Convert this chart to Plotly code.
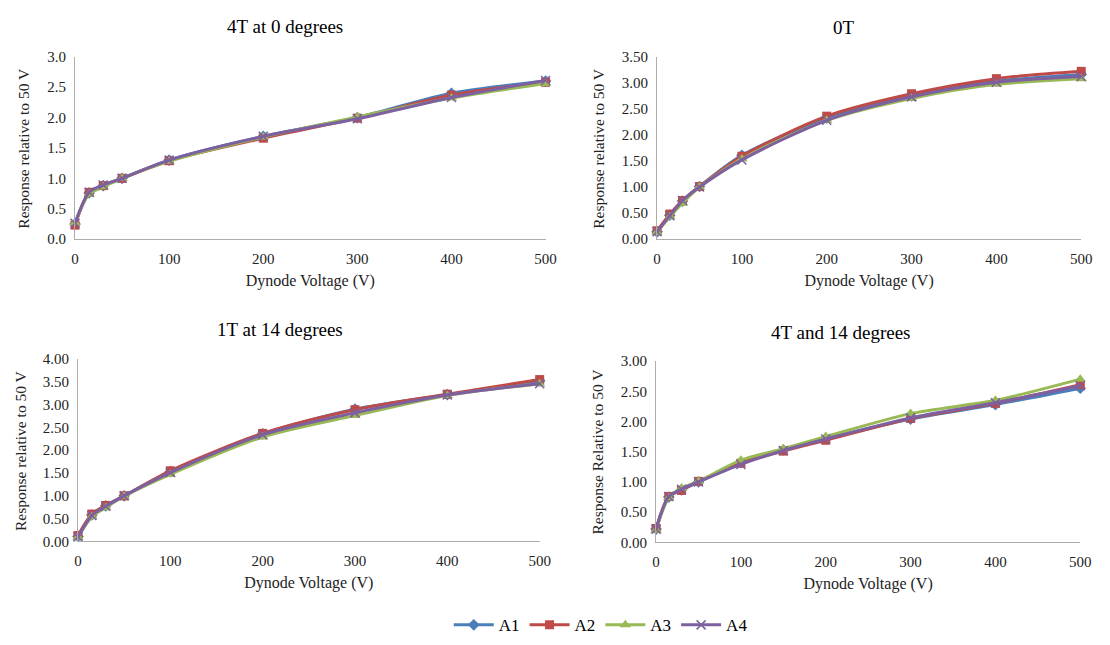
import plotly.graph_objects as go

# ---------------- data ----------------
series_names = ["A1", "A2", "A3", "A4"]
colors = ["#4A7EBB", "#BE4B48", "#98B954", "#7D60A0"]
symbols = ["diamond", "square", "triangle-up", "x-thin"]

x_std = [0, 15, 30, 50, 100, 200, 300, 400, 500]
x_p4 = [0, 15, 30, 50, 100, 150, 200, 300, 400, 500]

# Panel 1: 4T at 0 degrees
p1 = {
    "A1": [0.25, 0.76, 0.88, 1.00, 1.30, 1.69, 2.00, 2.40, 2.60],
    "A2": [0.23, 0.77, 0.88, 1.00, 1.29, 1.66, 1.99, 2.37, 2.58],
    "A3": [0.27, 0.74, 0.86, 1.00, 1.28, 1.68, 2.01, 2.32, 2.56],
    "A4": [0.26, 0.77, 0.89, 1.00, 1.30, 1.69, 1.98, 2.33, 2.61],
}
# Panel 2: 0T
p2 = {
    "A1": [0.14, 0.46, 0.73, 1.01, 1.61, 2.32, 2.75, 3.03, 3.16],
    "A2": [0.16, 0.48, 0.74, 1.01, 1.59, 2.36, 2.79, 3.08, 3.22],
    "A3": [0.13, 0.43, 0.69, 1.00, 1.54, 2.28, 2.70, 2.97, 3.08],
    "A4": [0.14, 0.45, 0.74, 1.00, 1.52, 2.28, 2.73, 3.01, 3.12],
}
# Panel 3: 1T at 14 degrees
p3 = {
    "A1": [0.11, 0.58, 0.78, 1.00, 1.53, 2.36, 2.90, 3.22, 3.52],
    "A2": [0.13, 0.60, 0.79, 1.00, 1.55, 2.37, 2.89, 3.23, 3.55],
    "A3": [0.09, 0.54, 0.74, 0.99, 1.47, 2.29, 2.76, 3.20, 3.46],
    "A4": [0.10, 0.57, 0.77, 1.00, 1.51, 2.34, 2.82, 3.21, 3.46],
}
# Panel 4: 4T and 14 degrees
p4 = {
    "A1": [0.22, 0.75, 0.87, 1.00, 1.32, 1.53, 1.71, 2.04, 2.28, 2.55],
    "A2": [0.23, 0.76, 0.86, 1.01, 1.31, 1.51, 1.69, 2.05, 2.30, 2.61],
    "A3": [0.20, 0.74, 0.90, 1.01, 1.36, 1.55, 1.75, 2.13, 2.35, 2.70],
    "A4": [0.22, 0.76, 0.88, 1.00, 1.29, 1.52, 1.71, 2.06, 2.31, 2.59],
}

panel_titles = ["4T at 0 degrees", "0T", "1T at 14 degrees", "4T and 14 degrees"]
y_titles = ["Response relative to 50 V", "Response relative to 50 V",
            "Response relative to 50 V", "Response Relative to 50 V"]
x_title = "Dynode Voltage (V)"
y_ranges = [[0, 3.0], [0, 3.5], [0, 4.0], [0, 3.0]]
y_formats = [".1f", ".2f", ".2f", ".2f"]

panels = [(x_std, p1), (x_std, p2), (x_std, p3), (x_p4, p4)]

# ---------------- layout geometry (pixels) ----------------
W, H = 1110, 645
boxes = [  # left, right, top, bottom
    (72, 549, 50, 237),
    (662, 1092, 50, 237),
    (75, 543, 360, 547),
    (661, 1091, 362, 548),
]
title_pos = [(285, 19), (851, 20), (280, 330), (848, 333)]
ytitle_x = [20, 603, 16, 602]

FONT = "Times New Roman, Liberation Serif, Tinos, DejaVu Serif, Noto Serif, serif"

fig = go.Figure()
layout = dict(
    width=W, height=H,
    margin=dict(l=0, r=0, t=0, b=0),
    paper_bgcolor="white", plot_bgcolor="white",
    font=dict(family=FONT, size=15, color="#222"),
    showlegend=True,
    legend=dict(orientation="h", x=0.545, y=1 - 633 / H, xanchor="center", yanchor="middle",
                font=dict(size=17, color="#000", family=FONT), itemwidth=40, tracegroupgap=0),
    annotations=[],
)

marker_sizes = [9, 9, 10, 9]

for i, ((xs, data), (l, r, t, b)) in enumerate(zip(panels, boxes)):
    ax = "" if i == 0 else str(i + 1)
    for j, name in enumerate(series_names):
        fig.add_trace(go.Scatter(
            x=xs, y=data[name], name=name, legendgroup=name,
            showlegend=(i == 0),
            mode="lines+markers",
            line=dict(color=colors[j], width=3, shape="spline", smoothing=0.8),
            marker=dict(symbol=symbols[j], size=marker_sizes[j], color=colors[j],
                        line=dict(color=colors[j], width=1.5 if j == 3 else 0)),
            cliponaxis=False,
            xaxis="x" + ax, yaxis="y" + ax,
        ))
    layout["xaxis" + ax] = dict(
        domain=[l / W, r / W], anchor="y" + ax, range=[0, 500], dtick=100,
        showgrid=False, zeroline=False, showline=True, linecolor="#ADADAD", linewidth=1,
        ticks="outside", ticklen=6, tickcolor="rgba(0,0,0,0)",
        tickfont=dict(size=15, color="#222", family=FONT),
        title=dict(text=x_title, font=dict(size=16, color="#222", family=FONT), standoff=8),
    )
    layout["yaxis" + ax] = dict(
        domain=[1 - b / H, 1 - t / H], anchor="x" + ax, range=y_ranges[i], dtick=0.5,
        tickformat=y_formats[i],
        showgrid=False, zeroline=False, showline=True, linecolor="#ADADAD", linewidth=1,
        ticks="outside", ticklen=5, tickcolor="rgba(0,0,0,0)",
        tickfont=dict(size=15, color="#222", family=FONT),
        title=dict(text="", font=dict(size=16, color="#222", family=FONT)),
    )
    tx, ty = title_pos[i]
    layout["annotations"].append(dict(
        text=panel_titles[i], x=tx / W, y=1 - ty / H, xref="paper", yref="paper",
        xanchor="center", yanchor="middle", showarrow=False,
        font=dict(size=19, color="#000", family=FONT),
    ))
    layout["annotations"].append(dict(
        text=y_titles[i], x=ytitle_x[i] / W, y=1 - ((t + b) / 2) / H, xref="paper", yref="paper",
        xanchor="center", yanchor="middle", showarrow=False, textangle=-90,
        font=dict(size=15.5, color="#222", family=FONT),
    ))

fig.update_layout(**layout)
fig.write_html("out.html")
